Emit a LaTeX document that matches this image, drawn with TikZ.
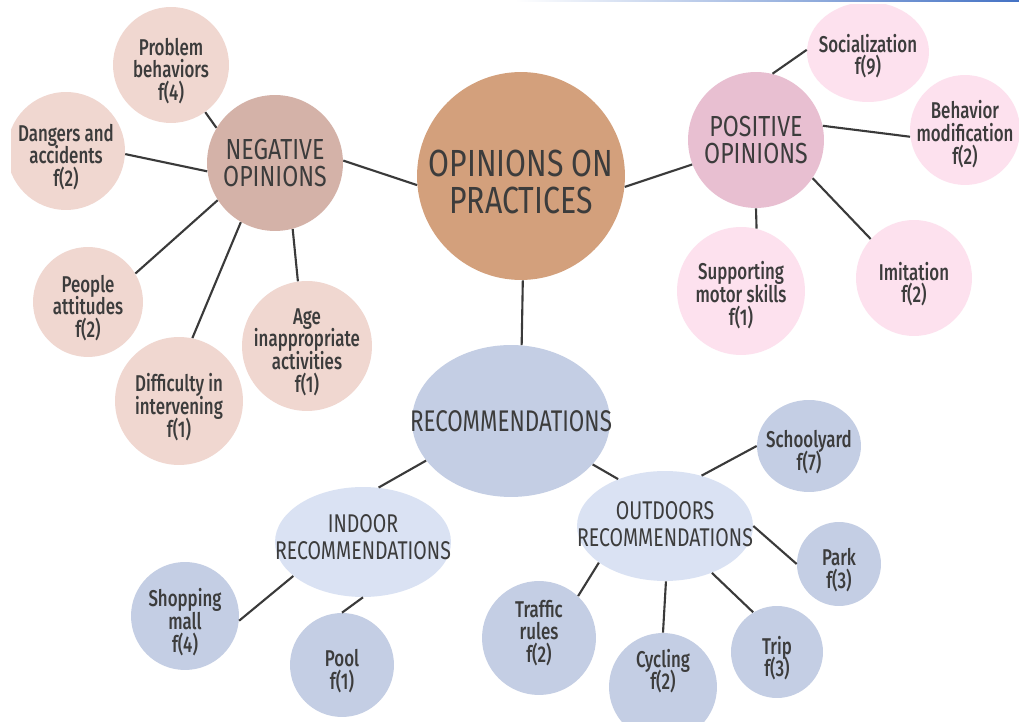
\documentclass[tikz,border=0pt]{standalone}
\usepackage{fontspec}
\setmainfont{Fira Sans}[UprightFont={* Medium}, FakeStretch=0.74]
\newfontfamily\headfont{Fira Sans}[FakeStretch=0.8]
\newfontfamily\headfontb{Fira Sans}[FakeStretch=0.8]
\newfontfamily\headfontc{Fira Sans}[FakeStretch=0.75]
\newfontfamily\headfontd{Fira Sans}[FakeStretch=0.76]
\usetikzlibrary{shapes.geometric}
\AtBeginDocument{\lineskiplimit=-10pt\relax}
\definecolor{txt}{HTML}{3C3C3C}
\definecolor{linec}{HTML}{3A3A3A}
\definecolor{centralc}{HTML}{D3A07C}
\definecolor{negc}{HTML}{D4B2A8}
\definecolor{negleaf}{HTML}{F0D7D0}
\definecolor{posc}{HTML}{E8BFD1}
\definecolor{posleaf}{HTML}{FDE1EE}
\definecolor{recc}{HTML}{C4CEE4}
\definecolor{subc}{HTML}{DAE2F3}
\definecolor{blueleaf}{HTML}{C4CEE4}
\definecolor{topblue}{HTML}{4472C4}
\tikzset{
  circ/.style={circle, draw=none, inner sep=0pt, minimum size=#1*0.04cm},
  ell/.style 2 args={ellipse, draw=none, inner sep=0pt, minimum width=#1*0.04cm, minimum height=#2*0.04cm},
  lab/.style={font=\fontsize{13}{12.9}\selectfont, text=txt, align=center, inner sep=0pt, yshift=-0.12cm},
  headbig/.style={font=\headfont\fontsize{21.5}{21.5}\selectfont, text=txt, align=center, inner sep=0pt, yshift=-0.12cm},
  headmid/.style={font=\headfontb\fontsize{16.5}{15.3}\selectfont, text=txt, align=center, inner sep=0pt},
  headrec/.style={font=\headfontc\fontsize{17}{17}\selectfont, text=txt, align=center, inner sep=0pt},
  headsub/.style={font=\headfontd\fontsize{14.6}{15.3}\selectfont, text=txt, align=center, inner sep=0pt},
  conn/.style={draw=linec, line width=1.2pt}
}
\begin{document}
\begin{tikzpicture}[x=0.02cm, y=-0.02cm]
\useasboundingbox (0,0) rectangle (1019,722);
\fill[white] (0,0) rectangle (1019,722);

% central
\node[circ=104, fill=centralc, label={[headbig]center:{OPINIONS ON\\PRACTICES}}] (c) at (521,176) {};

% negative branch
\node[circ=68, fill=negc, label={[headmid]center:{NEGATIVE\\OPINIONS}}] (neg) at (275,163) {};
\node[circ=58, fill=negleaf, label={[lab]center:{Problem\\behaviors\\f(4)}}] (pb) at (171,65) {};
\node[circ=59, fill=negleaf, label={[lab]center:{Dangers and\\accidents\\f(2)}}] (da) at (66,151) {};
\node[circ=55, fill=negleaf, label={[lab]center:{People\\attitudes\\f(2)}}] (pa) at (88,302) {};
\node[circ=64, fill=negleaf, label={[lab]center:{Difficulty in\\intervening\\f(1)}}] (di) at (179,401) {};
\node[circ=65, fill=negleaf, label={[lab]center:{Age\\inappropriate\\activities\\f(1)}}] (ag) at (307,346) {};

% positive branch
\node[circ=68, fill=posc, label={[headmid]center:{POSITIVE\\OPINIONS}}] (pos) at (756,140) {};
\node[ell={61}{50}, fill=posleaf, label={[lab, yshift=0.04cm]center:{Socialization\\f(9)}}] (so) at (868,52) {};
\node[circ=55, fill=posleaf, label={[lab, yshift=0.04cm]center:{Behavior\\modification\\f(2)}}] (bm) at (965,130) {};
\node[circ=58, fill=posleaf, label={[lab]center:{Imitation\\f(2)}}] (im) at (914,278) {};
\node[circ=64, fill=posleaf, label={[lab, yshift=0.04cm]center:{Supporting\\motor skills\\f(1)}}] (sm) at (741,291) {};

% recommendations branch
\node[ell={99}{76}, fill=recc, label={[headrec]center:{RECOMMENDATIONS}}] (rec) at (511,421) {};
\node[ell={88}{55}, fill=subc, label={[headsub, yshift=0.1cm]center:{INDOOR\\RECOMMENDATIONS}}] (ind) at (363,542) {};
\node[ell={88}{55}, fill=subc, label={[headsub, yshift=0.04cm]center:{OUTDOORS\\RECOMMENDATIONS}}] (out) at (665,526) {};
\node[circ=54, fill=blueleaf, label={[lab]center:{Shopping\\mall\\f(4)}}] (sh) at (185,616) {};
\node[circ=52, fill=blueleaf, label={[lab]center:{Pool\\f(1)}}] (po) at (342,665) {};
\node[circ=57, fill=blueleaf, label={[lab, yshift=0.22cm]center:{Traffic\\rules\\f(2)}}] (tr) at (539,638) {};
\node[circ=54, fill=blueleaf, label={[lab, yshift=0.44cm]center:{Cycling\\f(2)}}] (cy) at (663,687) {};
\node[circ=46, fill=blueleaf, label={[lab]center:{Trip\\f(3)}}] (tp) at (777,652) {};
\node[circ=42, fill=blueleaf, label={[lab]center:{Park\\f(3)}}] (pk) at (839,564) {};
\node[ell={52}{46}, fill=blueleaf, label={[lab]center:{Schoolyard\\f(7)}}] (sy) at (809,446) {};

% connectors
\draw[conn] (c.185) -- (neg.2.5);
\draw[conn] (c.-6.5) -- (pos.201);
\draw[conn] (c.-89) -- (rec.82.5);
\draw[conn] (neg.149) -- (pb.-54);
\draw[conn] (neg.187) -- (da.-3);
\draw[conn] (neg.213) -- (pa.31);
\draw[conn] (neg.240) -- (di.78);
\draw[conn] (neg.-75) -- (ag.98);
\draw[conn] (pos.76.6) -- (so.178);
\draw[conn] (pos.12) -- (bm.187.5);
\draw[conn] (pos.-34) -- (im.138);
\draw[conn] (pos.-90) -- (sm.76);
\draw[conn] (rec.205.5) -- (ind.74);
\draw[conn] (rec.-28) -- (out.135.6);
\draw[conn] (ind.206.6) -- (sh.-5);
\draw[conn] (ind.-90) -- (po.90);
\draw[conn] (out.54) -- (sy.180);
\draw[conn] (out.0) -- (pk.180);
\draw[conn] (out.-45.6) -- (tp.121);
\draw[conn] (out.-89) -- (cy.90);
\draw[conn] (out.209) -- (tr.47);

% page edges
\fill[white] (0,0) rectangle (11,722);
\fill[white] (0,0) rectangle (1019,4);
\shade[left color=white, right color=topblue] (515,0) rectangle (1019,2);
\end{tikzpicture}
\end{document}
